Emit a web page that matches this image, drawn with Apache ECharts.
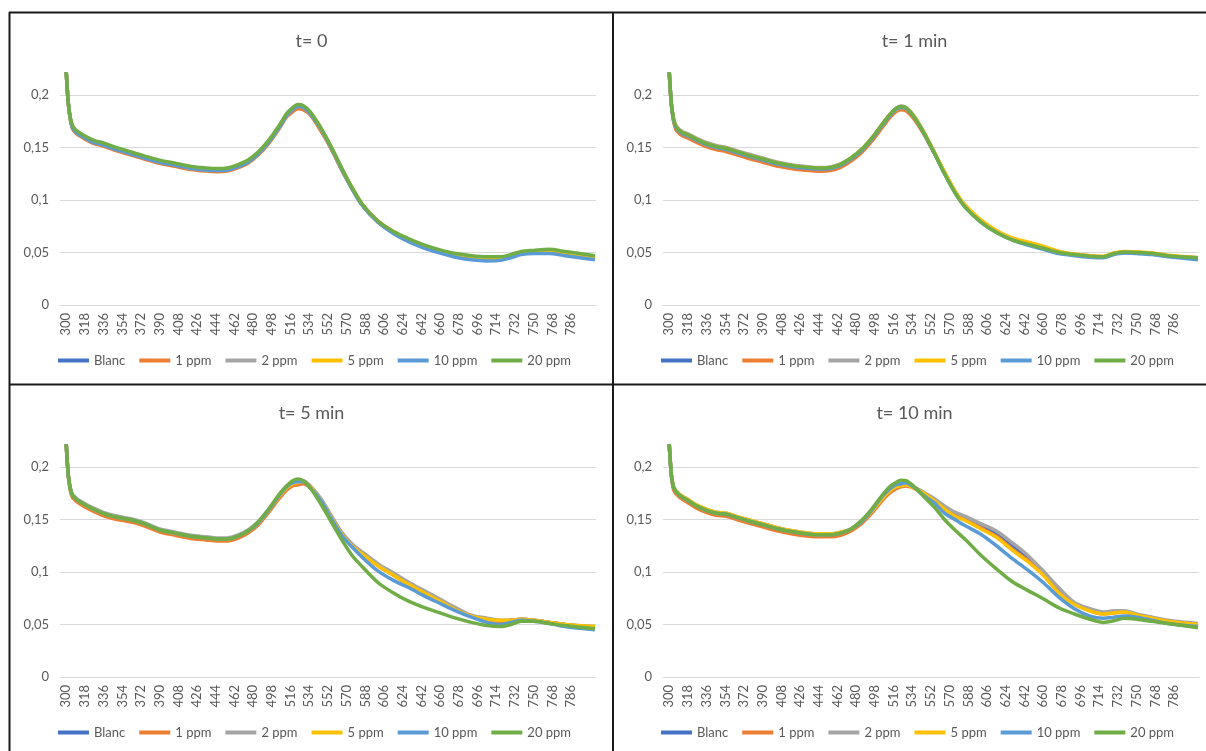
<!DOCTYPE html>
<html>
<head>
<meta charset="utf-8">
<title>Absorbance AgNP</title>
<script src="https://cdn.jsdelivr.net/npm/echarts@6/dist/echarts.min.js"></script>
<style>
html, body { margin: 0; padding: 0; background: #fff; }
#charts_abs { width: 1206px; height: 751px; }
</style>
</head>
<body>
<div id="charts_abs"></div>
<script>
var wavelengths = [
	300, 302, 304, 306, 308, 310, 313, 318, 326, 335,
	345, 355, 365, 375, 390, 405, 420, 435, 445, 455,
	465, 475, 485, 495, 505, 512, 518, 523, 528, 535,
	545, 555, 565, 575, 585, 600, 615, 630, 645, 660,
	675, 690, 705, 718, 728, 738, 750, 765, 780, 809
];
// category labels shown under each x axis
var xTickLabels = [
	300, 318, 336, 354, 372, 390, 408, 426, 444, 462, 480, 498, 516, 534,
	552, 570, 588, 606, 624, 642, 660, 678, 696, 714, 732, 750, 768, 786
];
var seriesNames = ['Blanc', '1 ppm', '2 ppm', '5 ppm', '10 ppm', '20 ppm'];
var panelTitles = ['t= 0', 't= 1 min', 't= 5 min', 't= 10 min'];

// t = 0
var t0_blanc = [
	0.222, 0.192, 0.177, 0.169, 0.166, 0.164, 0.162, 0.159, 0.155, 0.1525,
	0.149, 0.146, 0.143, 0.140, 0.136, 0.133, 0.130, 0.1285, 0.128, 0.1285,
	0.1315, 0.136, 0.144, 0.155, 0.169, 0.180, 0.186, 0.189, 0.188, 0.182,
	0.167, 0.149, 0.129, 0.111, 0.095, 0.079, 0.069, 0.061, 0.055, 0.0505,
	0.046, 0.044, 0.043, 0.0435, 0.046, 0.049, 0.050, 0.050, 0.049, 0.045
];
var t0_1ppm = [
	0.222, 0.192, 0.176, 0.168, 0.165, 0.163, 0.161, 0.158, 0.154, 0.1515,
	0.148, 0.145, 0.142, 0.139, 0.135, 0.132, 0.129, 0.1275, 0.127, 0.1275,
	0.1305, 0.135, 0.143, 0.154, 0.168, 0.179, 0.184, 0.187, 0.186, 0.181,
	0.166, 0.149, 0.129, 0.111, 0.095, 0.079, 0.069, 0.061, 0.055, 0.0505,
	0.047, 0.045, 0.044, 0.044, 0.046, 0.049, 0.050, 0.051, 0.049, 0.045
];
var t0_2ppm = [
	0.222, 0.192, 0.177, 0.170, 0.167, 0.165, 0.163, 0.160, 0.156, 0.1535,
	0.150, 0.147, 0.144, 0.141, 0.137, 0.134, 0.131, 0.1295, 0.129, 0.1295,
	0.1325, 0.137, 0.145, 0.156, 0.170, 0.181, 0.187, 0.190, 0.189, 0.183,
	0.168, 0.150, 0.130, 0.112, 0.096, 0.080, 0.070, 0.062, 0.056, 0.0515,
	0.048, 0.046, 0.045, 0.045, 0.047, 0.050, 0.051, 0.052, 0.050, 0.046
];
var t0_5ppm = [
	0.222, 0.192, 0.177, 0.170, 0.167, 0.165, 0.1625, 0.1595, 0.1555, 0.153,
	0.1495, 0.1465, 0.1435, 0.1405, 0.1365, 0.1335, 0.1305, 0.129, 0.1285, 0.129,
	0.132, 0.1365, 0.1445, 0.1555, 0.1695, 0.1805, 0.1865, 0.1895, 0.1885, 0.1825,
	0.168, 0.150, 0.130, 0.112, 0.096, 0.080, 0.070, 0.062, 0.056, 0.0515,
	0.048, 0.046, 0.045, 0.045, 0.047, 0.050, 0.051, 0.052, 0.050, 0.046
];
var t0_10ppm = [
	0.222, 0.192, 0.177, 0.169, 0.166, 0.164, 0.162, 0.159, 0.155, 0.1525,
	0.149, 0.146, 0.143, 0.140, 0.136, 0.133, 0.130, 0.1285, 0.128, 0.1285,
	0.1315, 0.136, 0.144, 0.155, 0.169, 0.180, 0.186, 0.189, 0.188, 0.182,
	0.168, 0.150, 0.130, 0.111, 0.095, 0.079, 0.068, 0.060, 0.054, 0.0495,
	0.0455, 0.043, 0.042, 0.0425, 0.045, 0.048, 0.049, 0.049, 0.047, 0.043
];
var t0_20ppm = [
	0.222, 0.192, 0.178, 0.171, 0.168, 0.166, 0.164, 0.161, 0.157, 0.1545,
	0.151, 0.148, 0.145, 0.142, 0.138, 0.135, 0.132, 0.1305, 0.130, 0.1305,
	0.1335, 0.138, 0.146, 0.157, 0.171, 0.182, 0.188, 0.191, 0.190, 0.184,
	0.169, 0.151, 0.131, 0.112, 0.096, 0.080, 0.070, 0.063, 0.057, 0.0525,
	0.049, 0.047, 0.046, 0.046, 0.048, 0.051, 0.052, 0.053, 0.051, 0.047
];

// t = 1 min
var t1_blanc = [
	0.222, 0.192, 0.177, 0.170, 0.167, 0.165, 0.163, 0.161, 0.157, 0.153,
	0.150, 0.148, 0.145, 0.142, 0.138, 0.134, 0.1315, 0.130, 0.1295, 0.130,
	0.133, 0.139, 0.147, 0.158, 0.171, 0.180, 0.186, 0.188, 0.187, 0.180,
	0.164, 0.145, 0.126, 0.108, 0.094, 0.080, 0.070, 0.063, 0.058, 0.054,
	0.050, 0.048, 0.046, 0.0455, 0.0485, 0.050, 0.0495, 0.0485, 0.0465, 0.044
];
var t1_1ppm = [
	0.222, 0.191, 0.176, 0.168, 0.165, 0.163, 0.161, 0.159, 0.155, 0.151,
	0.148, 0.146, 0.143, 0.140, 0.136, 0.132, 0.1295, 0.128, 0.1275, 0.128,
	0.131, 0.137, 0.145, 0.156, 0.169, 0.178, 0.184, 0.186, 0.185, 0.178,
	0.163, 0.145, 0.126, 0.108, 0.094, 0.080, 0.070, 0.063, 0.058, 0.054,
	0.050, 0.048, 0.0465, 0.046, 0.049, 0.0505, 0.050, 0.049, 0.047, 0.045
];
var t1_2ppm = [
	0.222, 0.192, 0.178, 0.172, 0.169, 0.167, 0.165, 0.163, 0.159, 0.155,
	0.152, 0.150, 0.147, 0.144, 0.140, 0.136, 0.133, 0.1315, 0.131, 0.1315,
	0.1345, 0.140, 0.148, 0.159, 0.172, 0.181, 0.187, 0.1895, 0.188, 0.181,
	0.165, 0.146, 0.126, 0.108, 0.094, 0.080, 0.070, 0.063, 0.059, 0.055,
	0.051, 0.048, 0.047, 0.046, 0.049, 0.0505, 0.050, 0.049, 0.047, 0.045
];
var t1_5ppm = [
	0.222, 0.192, 0.178, 0.171, 0.168, 0.166, 0.164, 0.162, 0.158, 0.154,
	0.151, 0.149, 0.146, 0.143, 0.139, 0.135, 0.1325, 0.131, 0.1305, 0.131,
	0.134, 0.140, 0.148, 0.159, 0.172, 0.181, 0.186, 0.188, 0.187, 0.181,
	0.165, 0.146, 0.127, 0.109, 0.095, 0.081, 0.071, 0.064, 0.060, 0.056,
	0.051, 0.0485, 0.047, 0.0465, 0.0495, 0.051, 0.0505, 0.0495, 0.0475, 0.045
];
var t1_10ppm = [
	0.222, 0.192, 0.177, 0.170, 0.167, 0.165, 0.163, 0.161, 0.157, 0.153,
	0.150, 0.148, 0.145, 0.142, 0.138, 0.134, 0.1315, 0.130, 0.1295, 0.130,
	0.133, 0.139, 0.147, 0.158, 0.171, 0.180, 0.186, 0.188, 0.187, 0.180,
	0.164, 0.145, 0.125, 0.107, 0.093, 0.079, 0.069, 0.062, 0.057, 0.053,
	0.049, 0.047, 0.0455, 0.045, 0.048, 0.0495, 0.049, 0.048, 0.046, 0.043
];
var t1_20ppm = [
	0.222, 0.192, 0.178, 0.171, 0.168, 0.166, 0.164, 0.162, 0.158, 0.154,
	0.151, 0.149, 0.146, 0.143, 0.139, 0.135, 0.1325, 0.131, 0.1305, 0.131,
	0.134, 0.140, 0.148, 0.159, 0.172, 0.181, 0.187, 0.189, 0.188, 0.180,
	0.164, 0.145, 0.125, 0.107, 0.093, 0.079, 0.069, 0.062, 0.058, 0.054,
	0.050, 0.048, 0.0465, 0.046, 0.049, 0.0505, 0.050, 0.049, 0.047, 0.045
];

// t = 5 min
var t5_blanc = [
	0.222, 0.192, 0.179, 0.173, 0.171, 0.169, 0.167, 0.164, 0.160, 0.156,
	0.153, 0.151, 0.149, 0.146, 0.140, 0.137, 0.134, 0.1325, 0.1315, 0.1315,
	0.134, 0.139, 0.147, 0.159, 0.172, 0.180, 0.184, 0.185, 0.186, 0.181,
	0.169, 0.153, 0.137, 0.126, 0.118, 0.107, 0.098, 0.089, 0.081, 0.073,
	0.065, 0.058, 0.055, 0.053, 0.054, 0.055, 0.054, 0.052, 0.050, 0.047
];
var t5_1ppm = [
	0.222, 0.191, 0.177, 0.171, 0.169, 0.167, 0.165, 0.162, 0.158, 0.154,
	0.151, 0.149, 0.147, 0.144, 0.138, 0.135, 0.132, 0.1305, 0.1295, 0.1295,
	0.132, 0.137, 0.145, 0.157, 0.170, 0.178, 0.182, 0.183, 0.184, 0.180,
	0.168, 0.152, 0.136, 0.125, 0.117, 0.106, 0.097, 0.088, 0.080, 0.072,
	0.064, 0.058, 0.055, 0.053, 0.054, 0.055, 0.054, 0.052, 0.050, 0.047
];
var t5_2ppm = [
	0.222, 0.192, 0.180, 0.174, 0.172, 0.170, 0.168, 0.165, 0.161, 0.157,
	0.154, 0.152, 0.150, 0.147, 0.141, 0.138, 0.135, 0.1335, 0.1325, 0.1325,
	0.135, 0.140, 0.148, 0.160, 0.173, 0.181, 0.185, 0.186, 0.187, 0.182,
	0.170, 0.154, 0.138, 0.127, 0.119, 0.108, 0.099, 0.090, 0.082, 0.074,
	0.066, 0.059, 0.056, 0.054, 0.054, 0.055, 0.054, 0.052, 0.050, 0.048
];
var t5_5ppm = [
	0.222, 0.192, 0.179, 0.173, 0.171, 0.169, 0.167, 0.164, 0.160, 0.156,
	0.153, 0.151, 0.149, 0.146, 0.140, 0.137, 0.134, 0.1325, 0.1315, 0.1315,
	0.134, 0.139, 0.147, 0.159, 0.172, 0.180, 0.184, 0.185, 0.186, 0.181,
	0.168, 0.152, 0.136, 0.125, 0.117, 0.106, 0.097, 0.088, 0.080, 0.072,
	0.064, 0.058, 0.055, 0.054, 0.054, 0.055, 0.054, 0.052, 0.050, 0.048
];
var t5_10ppm = [
	0.222, 0.192, 0.179, 0.173, 0.171, 0.169, 0.167, 0.164, 0.160, 0.156,
	0.153, 0.151, 0.149, 0.146, 0.140, 0.137, 0.134, 0.1325, 0.1315, 0.1315,
	0.134, 0.139, 0.147, 0.159, 0.173, 0.181, 0.185, 0.186, 0.186, 0.180,
	0.168, 0.151, 0.135, 0.124, 0.114, 0.101, 0.092, 0.085, 0.077, 0.070,
	0.063, 0.057, 0.052, 0.050, 0.052, 0.054, 0.053, 0.051, 0.048, 0.045
];
var t5_20ppm = [
	0.222, 0.192, 0.179, 0.173, 0.171, 0.169, 0.167, 0.164, 0.160, 0.156,
	0.153, 0.151, 0.149, 0.146, 0.140, 0.137, 0.134, 0.1325, 0.1315, 0.1315,
	0.134, 0.139, 0.148, 0.160, 0.174, 0.182, 0.187, 0.1885, 0.187, 0.180,
	0.165, 0.148, 0.131, 0.116, 0.105, 0.090, 0.080, 0.072, 0.066, 0.061,
	0.056, 0.052, 0.049, 0.048, 0.050, 0.053, 0.053, 0.051, 0.049, 0.046
];

// t = 10 min
var t10_blanc = [
	0.222, 0.193, 0.181, 0.177, 0.175, 0.173, 0.171, 0.168, 0.163, 0.159,
	0.156, 0.155, 0.152, 0.149, 0.145, 0.141, 0.138, 0.136, 0.1355, 0.1355,
	0.137, 0.140, 0.148, 0.158, 0.171, 0.178, 0.182, 0.183, 0.184, 0.181,
	0.175, 0.168, 0.161, 0.155, 0.151, 0.144, 0.137, 0.126, 0.113, 0.099,
	0.083, 0.070, 0.064, 0.061, 0.062, 0.062, 0.059, 0.056, 0.053, 0.050
];
var t10_1ppm = [
	0.222, 0.192, 0.179, 0.175, 0.173, 0.171, 0.169, 0.166, 0.161, 0.157,
	0.154, 0.153, 0.150, 0.147, 0.143, 0.139, 0.136, 0.134, 0.1335, 0.1335,
	0.135, 0.139, 0.146, 0.156, 0.168, 0.175, 0.179, 0.181, 0.182, 0.180,
	0.175, 0.169, 0.161, 0.154, 0.150, 0.142, 0.134, 0.122, 0.111, 0.098,
	0.081, 0.070, 0.063, 0.060, 0.061, 0.062, 0.059, 0.056, 0.053, 0.050
];
var t10_2ppm = [
	0.222, 0.193, 0.182, 0.178, 0.176, 0.174, 0.172, 0.169, 0.164, 0.160,
	0.157, 0.156, 0.153, 0.150, 0.146, 0.142, 0.139, 0.137, 0.1365, 0.1365,
	0.138, 0.141, 0.148, 0.158, 0.170, 0.177, 0.181, 0.182, 0.183, 0.181,
	0.176, 0.170, 0.163, 0.157, 0.153, 0.146, 0.139, 0.128, 0.116, 0.101,
	0.085, 0.071, 0.065, 0.062, 0.063, 0.063, 0.060, 0.057, 0.054, 0.051
];
var t10_5ppm = [
	0.222, 0.193, 0.182, 0.178, 0.176, 0.174, 0.172, 0.169, 0.164, 0.160,
	0.157, 0.156, 0.153, 0.150, 0.146, 0.142, 0.139, 0.137, 0.1365, 0.1365,
	0.138, 0.141, 0.148, 0.158, 0.170, 0.177, 0.181, 0.182, 0.183, 0.180,
	0.175, 0.168, 0.160, 0.153, 0.149, 0.141, 0.133, 0.121, 0.110, 0.097,
	0.080, 0.069, 0.063, 0.060, 0.061, 0.062, 0.059, 0.056, 0.053, 0.050
];
var t10_10ppm = [
	0.222, 0.193, 0.181, 0.177, 0.175, 0.173, 0.171, 0.168, 0.163, 0.159,
	0.156, 0.155, 0.152, 0.149, 0.145, 0.141, 0.138, 0.136, 0.1355, 0.1355,
	0.137, 0.141, 0.148, 0.159, 0.172, 0.179, 0.183, 0.184, 0.185, 0.181,
	0.173, 0.166, 0.156, 0.150, 0.144, 0.136, 0.125, 0.113, 0.102, 0.090,
	0.076, 0.065, 0.058, 0.056, 0.057, 0.058, 0.057, 0.054, 0.051, 0.048
];
var t10_20ppm = [
	0.222, 0.193, 0.181, 0.177, 0.175, 0.173, 0.171, 0.168, 0.163, 0.159,
	0.156, 0.155, 0.152, 0.149, 0.145, 0.141, 0.138, 0.136, 0.1355, 0.1355,
	0.137, 0.141, 0.149, 0.160, 0.173, 0.181, 0.185, 0.1875, 0.187, 0.182,
	0.172, 0.162, 0.150, 0.140, 0.131, 0.116, 0.103, 0.091, 0.0825, 0.0745,
	0.066, 0.060, 0.055, 0.052, 0.0535, 0.056, 0.055, 0.053, 0.051, 0.047
];

var panelData = [
	[t0_blanc, t0_1ppm, t0_2ppm, t0_5ppm, t0_10ppm, t0_20ppm],
	[t1_blanc, t1_1ppm, t1_2ppm, t1_5ppm, t1_10ppm, t1_20ppm],
	[t5_blanc, t5_1ppm, t5_2ppm, t5_5ppm, t5_10ppm, t5_20ppm],
	[t10_blanc, t10_1ppm, t10_2ppm, t10_5ppm, t10_10ppm, t10_20ppm]
];

var lineColors = ['#4472C4', '#ED7D31', '#A5A5A5', '#FFC000', '#5B9BD5', '#70AD47'];
var textColor = '#595959';
var gridColor = '#D9D9D9';
var fontName = 'Lato';

var absChart = echarts.init(document.getElementById('charts_abs'), null, {renderer : 'canvas'});

var titles = [], grids = [], xAxes = [], yAxes = [], legends = [], series = [];
for (var p = 0; p < 4; p++) {
	var dx = (p % 2) * 603;
	var dy = Math.floor(p / 2) * 372;
	titles.push({
		text : panelTitles[p],
		left : 306.5 + dx,
		top : 27 + dy,
		textAlign : 'center',
		textStyle : { fontFamily : fontName, fontSize : 18, fontWeight : 'normal', color : textColor }
	});
	grids.push({ left : 60 + dx, top : 74 + dy, width : 536, height : 231 });
	xAxes.push({
		type : 'value',
		gridIndex : p,
		min : 294,
		max : 810,
		axisLine : { show : true, lineStyle : { color : gridColor, width : 1 } },
		axisTick : { show : false },
		splitLine : { show : false },
		axisLabel : {
			customValues : xTickLabels,
			rotate : 90,
			margin : 8,
			fontFamily : fontName,
			fontSize : 13,
			color : textColor
		}
	});
	yAxes.push({
		type : 'value',
		gridIndex : p,
		min : 0,
		max : 0.22,
		interval : 0.05,
		axisLine : { show : false },
		axisTick : { show : false },
		splitLine : {
			show : true,
			lineStyle : { color : [gridColor, gridColor, gridColor, gridColor, gridColor, 'rgba(0,0,0,0)'], width : 1 }
		},
		axisLabel : {
			margin : 11,
			showMaxLabel : false,
			fontFamily : fontName,
			fontSize : 13,
			color : textColor,
			formatter : function (v) { return String(v).replace('.', ','); }
		}
	});
	legends.push({
		data : seriesNames,
		left : 53 + dx,
		top : 349 + dy,
		icon : 'rect',
		itemWidth : 31,
		itemHeight : 4,
		itemGap : 14,
		textStyle : { fontFamily : fontName, fontSize : 13, color : textColor }
	});
	for (var s = 0; s < seriesNames.length; s++) {
		var vals = panelData[p][s];
		var pts = [];
		for (var k = 0; k < wavelengths.length; k++) {
			pts.push([wavelengths[k], vals[k]]);
		}
		series.push({
			name : seriesNames[s],
			type : 'line',
			xAxisIndex : p,
			yAxisIndex : p,
			data : pts,
			showSymbol : false,
			symbol : 'none',
			smooth : 0.3,
			color : lineColors[s],
			lineStyle : { width : 3.5, color : lineColors[s] }
		});
	}
}

var borderStyle = { stroke : '#1a1a1a', lineWidth : 2 };
var option = {
	animation : false,
	backgroundColor : '#ffffff',
	title : titles,
	grid : grids,
	xAxis : xAxes,
	yAxis : yAxes,
	legend : legends,
	series : series,
	graphic : [
		{ type : 'line', shape : { x1 : 9, y1 : 12.5, x2 : 1206, y2 : 12.5 }, style : borderStyle, z : 100 },
		{ type : 'line', shape : { x1 : 9.5, y1 : 12, x2 : 9.5, y2 : 751 }, style : borderStyle, z : 100 },
		{ type : 'line', shape : { x1 : 613, y1 : 12, x2 : 613, y2 : 751 }, style : borderStyle, z : 100 },
		{ type : 'line', shape : { x1 : 9, y1 : 384.5, x2 : 1206, y2 : 384.5 }, style : borderStyle, z : 100 }
	]
};
absChart.setOption(option);
</script>
</body>
</html>
